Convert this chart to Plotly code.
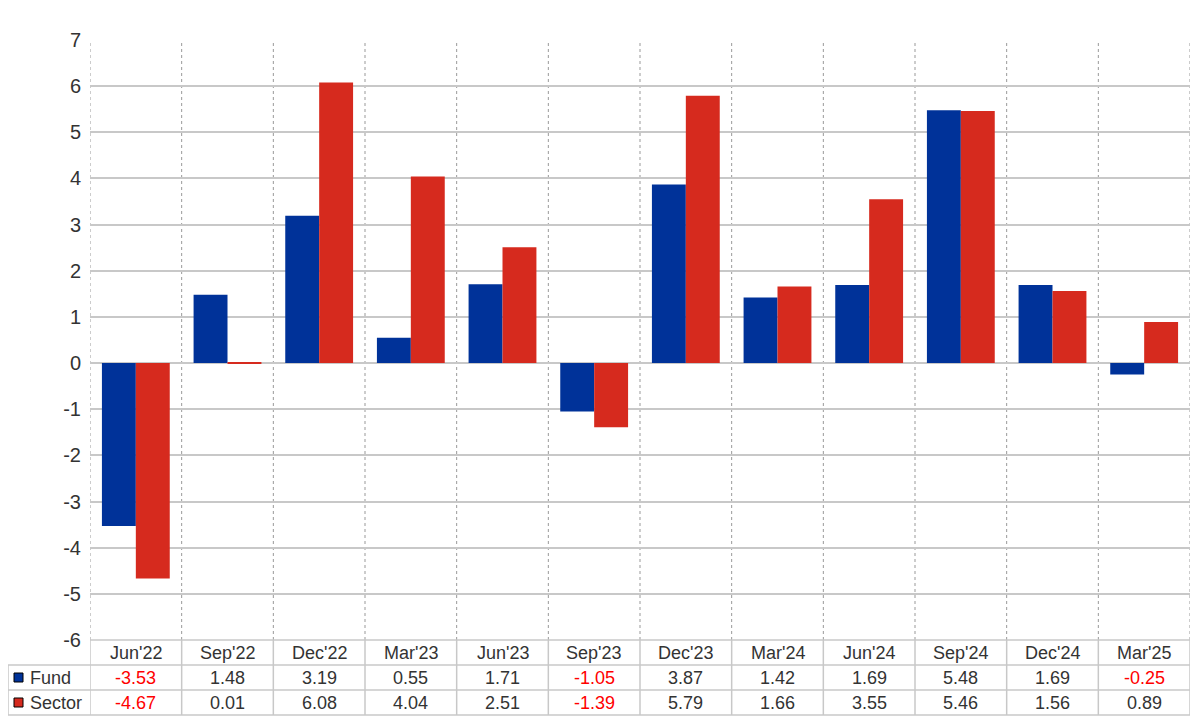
import plotly.graph_objects as go

categories = ["Jun'22", "Sep'22", "Dec'22", "Mar'23", "Jun'23", "Sep'23",
              "Dec'23", "Mar'24", "Jun'24", "Sep'24", "Dec'24", "Mar'25"]
fund = [-3.53, 1.48, 3.19, 0.55, 1.71, -1.05, 3.87, 1.42, 1.69, 5.48, 1.69, -0.25]
sector = [-4.67, 0.01, 6.08, 4.04, 2.51, -1.39, 5.79, 1.66, 3.55, 5.46, 1.56, 0.89]
series_names = ["Fund", "Sector"]
y_ticks = list(range(-6, 8))
y_ticktext = [str(v) for v in y_ticks]

BLUE = "#003299"
RED = "#D62A1E"
GRID = "#c8c8c8"
FONT = "Liberation Sans, Arial, sans-serif"

fig = go.Figure()
fig.add_trace(go.Bar(x=categories, y=fund, name=series_names[0], marker_color=BLUE, marker_line_width=0))
fig.add_trace(go.Bar(x=categories, y=sector, name=series_names[1], marker_color=RED, marker_line_width=0))

OFF = 8  # page body margin offset
W, H = 1200, 720
# target plot area in page pixels: x 90..1190, y 40..640
L = 90 - OFF
T = 40 - OFF
R = W - (1190 - OFF)
B = H - (640 - OFF)
ph = H - T - B
pw = W - L - R

def py(y):  # page pixel y -> paper
    return (640 - y) / ph

def px(x):
    return (x - 90) / pw

shapes = []
annotations = []
for yl in [665, 690, 715]:
    shapes.append(dict(type="line", xref="paper", yref="paper", x0=px(8), x1=1, y0=py(yl), y1=py(yl),
                       line=dict(color=GRID, width=1.5)))
shapes.append(dict(type="line", xref="paper", yref="paper", x0=px(8), x1=px(8), y0=py(665), y1=py(715),
                   line=dict(color=GRID, width=1.5)))
n = len(categories)
for i in range(n + 1):
    shapes.append(dict(type="line", xref="x", yref="paper", x0=i - 0.5, x1=i - 0.5, y0=py(640), y1=py(715),
                       line=dict(color=GRID, width=1.5)))
shapes.append(dict(type="line", xref="paper", yref="paper", x0=0, x1=1, y0=0, y1=0,
                   line=dict(color=GRID, width=1.5)))
for i in range(n + 1):
    shapes.append(dict(type="line", xref="x", yref="paper", x0=i - 0.5, x1=i - 0.5, y0=0, y1=1,
                       line=dict(color="#999999", width=1, dash="dot"), layer="below"))

for yc, col in [(677.5, BLUE), (702.5, RED)]:
    shapes.append(dict(type="rect", xref="paper", yref="paper", x0=px(14), x1=px(23), y0=py(yc + 4.5), y1=py(yc - 4.5),
                       fillcolor=col, line=dict(color="#000000", width=1)))

for c in categories:
    annotations.append(dict(x=c, xref="x", y=py(652.5), yref="paper", text=c, showarrow=False,
                            font=dict(size=18, color="#333333", family=FONT), yanchor="middle"))
for vals, yc in [(fund, 677.5), (sector, 702.5)]:
    for c, v in zip(categories, vals):
        annotations.append(dict(x=c, xref="x", y=py(yc), yref="paper", text=f"{v:.2f}", showarrow=False,
                                font=dict(size=18, color="#ff0000" if v < 0 else "#333333", family=FONT),
                                yanchor="middle"))
for name, yc in zip(series_names, [677.5, 702.5]):
    annotations.append(dict(x=px(28), xref="paper", y=py(yc), yref="paper", text=name, showarrow=False,
                            xanchor="left", font=dict(size=18, color="#333333", family=FONT), yanchor="middle"))

fig.update_layout(
    width=W, height=H,
    margin=dict(l=L, r=R, t=T, b=B),
    paper_bgcolor="white", plot_bgcolor="white",
    barmode="group", bargap=0.26, bargroupgap=0,
    showlegend=False,
    font=dict(family=FONT, color="#333333"),
    xaxis=dict(type="category", showticklabels=False, showgrid=False, zeroline=False,
               range=[-0.5, n - 0.5], fixedrange=True),
    yaxis=dict(range=[-6, 7], tickvals=y_ticks, ticktext=y_ticktext, showgrid=True, gridcolor=GRID,
               gridwidth=1.5, zeroline=False, tickfont=dict(size=20, color="#333333"), ticklabelstandoff=8),
    shapes=shapes, annotations=annotations,
)
fig.write_html("out.html")
